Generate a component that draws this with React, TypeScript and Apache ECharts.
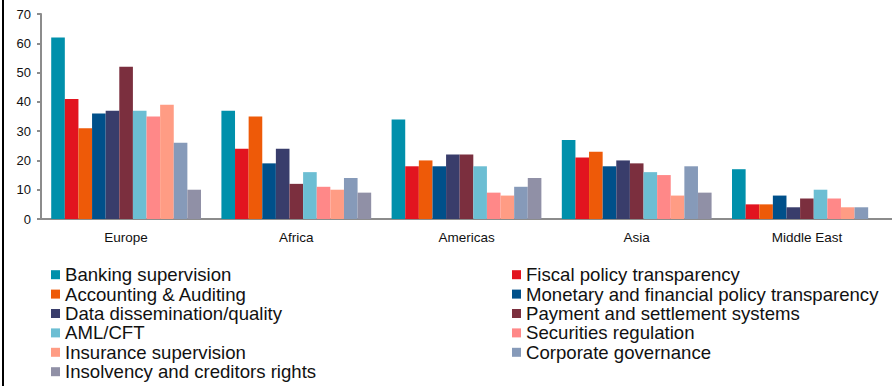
import React, { useEffect, useRef } from "react";
import * as echarts from "echarts";

const categories = ["Europe", "Africa", "Americas", "Asia", "Middle East"];

const seriesNames = [
  "Banking supervision",
  "Fiscal policy transparency",
  "Accounting & Auditing",
  "Monetary and financial policy transparency",
  "Data dissemination/quality",
  "Payment and settlement systems",
  "AML/CFT",
  "Securities regulation",
  "Insurance supervision",
  "Corporate governance",
  "Insolvency and creditors rights",
];

const seriesColors = [
  "#0090AB",
  "#E2141F",
  "#EE5A08",
  "#00508A",
  "#393D6B",
  "#7B2F3E",
  "#6CBED3",
  "#FF8888",
  "#FF9C84",
  "#869AB9",
  "#9090A6",
];

const bankingSupervision = [62, 37, 34, 27, 17];
const fiscalPolicy = [41, 24, 18, 21, 5];
const accountingAuditing = [31, 35, 20, 23, 5];
const monetaryFinancial = [36, 19, 18, 18, 8];
const dataDissemination = [37, 24, 22, 20, 4];
const paymentSettlement = [52, 12, 22, 19, 7];
const amlCft = [37, 16, 18, 16, 10];
const securitiesRegulation = [35, 11, 9, 15, 7];
const insuranceSupervision = [39, 10, 8, 8, 4];
const corporateGovernance = [26, 14, 11, 18, 4];
const insolvencyRights: (number | null)[] = [10, 9, 14, 9, null];

const seriesValues = [
  bankingSupervision,
  fiscalPolicy,
  accountingAuditing,
  monetaryFinancial,
  dataDissemination,
  paymentSettlement,
  amlCft,
  securitiesRegulation,
  insuranceSupervision,
  corporateGovernance,
  insolvencyRights,
];

const yTicks = [0, 10, 20, 30, 40, 50, 60, 70];

export default function App() {
  const ref = useRef<HTMLDivElement>(null);

  useEffect(() => {
    if (!ref.current) return;
    const chart = echarts.init(ref.current, null, { renderer: "svg" });
    const font = "Liberation Sans, Arial, sans-serif";
    const legendText = { fontFamily: font, fontSize: 18.6, color: "#111", lineHeight: 19.4 };
    const legendBase = {
      orient: "vertical",
      top: 265,
      height: 121,
      padding: 0,
      itemWidth: 9,
      itemHeight: 9,
      itemGap: 0,
      icon: "rect",
      textStyle: legendText,
    };
    chart.setOption({
      animation: false,
      textStyle: { fontFamily: font },
      grid: { left: 41, top: 14, width: 860, height: 205, containLabel: false },
      xAxis: {
        type: "category",
        data: categories,
        axisLine: { show: true, lineStyle: { color: "#8c8c8c", width: 2 } },
        axisTick: { show: false },
        axisLabel: { fontFamily: font, fontSize: 13.5, color: "#111", margin: 11 },
      },
      yAxis: {
        type: "value",
        min: yTicks[0],
        max: yTicks[yTicks.length - 1],
        interval: 10,
        splitLine: { show: false },
        axisLine: { show: true, lineStyle: { color: "#8c8c8c", width: 2 } },
        axisTick: { show: true, length: 4, lineStyle: { color: "#8c8c8c", width: 2 } },
        axisLabel: { fontFamily: font, fontSize: 13, color: "#111", margin: 10 },
      },
      legend: [
        {
          ...legendBase,
          left: 51,
          data: seriesNames.filter((_, i) => i % 2 === 0),
        },
        {
          ...legendBase,
          left: 512,
          data: seriesNames.filter((_, i) => i % 2 === 1),
        },
      ],
      graphic: [
        {
          type: "rect",
          left: 2,
          top: 0,
          shape: { width: 2, height: 386 },
          style: { fill: "#000" },
        },
      ],
      series: seriesNames.map((name, i) => ({
        name,
        type: "bar",
        data: seriesValues[i],
        barGap: "0%",
        barCategoryGap: "12%",
        itemStyle: {
          color: seriesColors[i],
        },
      })),
    });
    return () => chart.dispose();
  }, []);

  return (
    <div
      ref={ref}
      style={{ position: "absolute", left: 0, top: 0, width: 892, height: 386, background: "#fff" }}
    />
  );
}
